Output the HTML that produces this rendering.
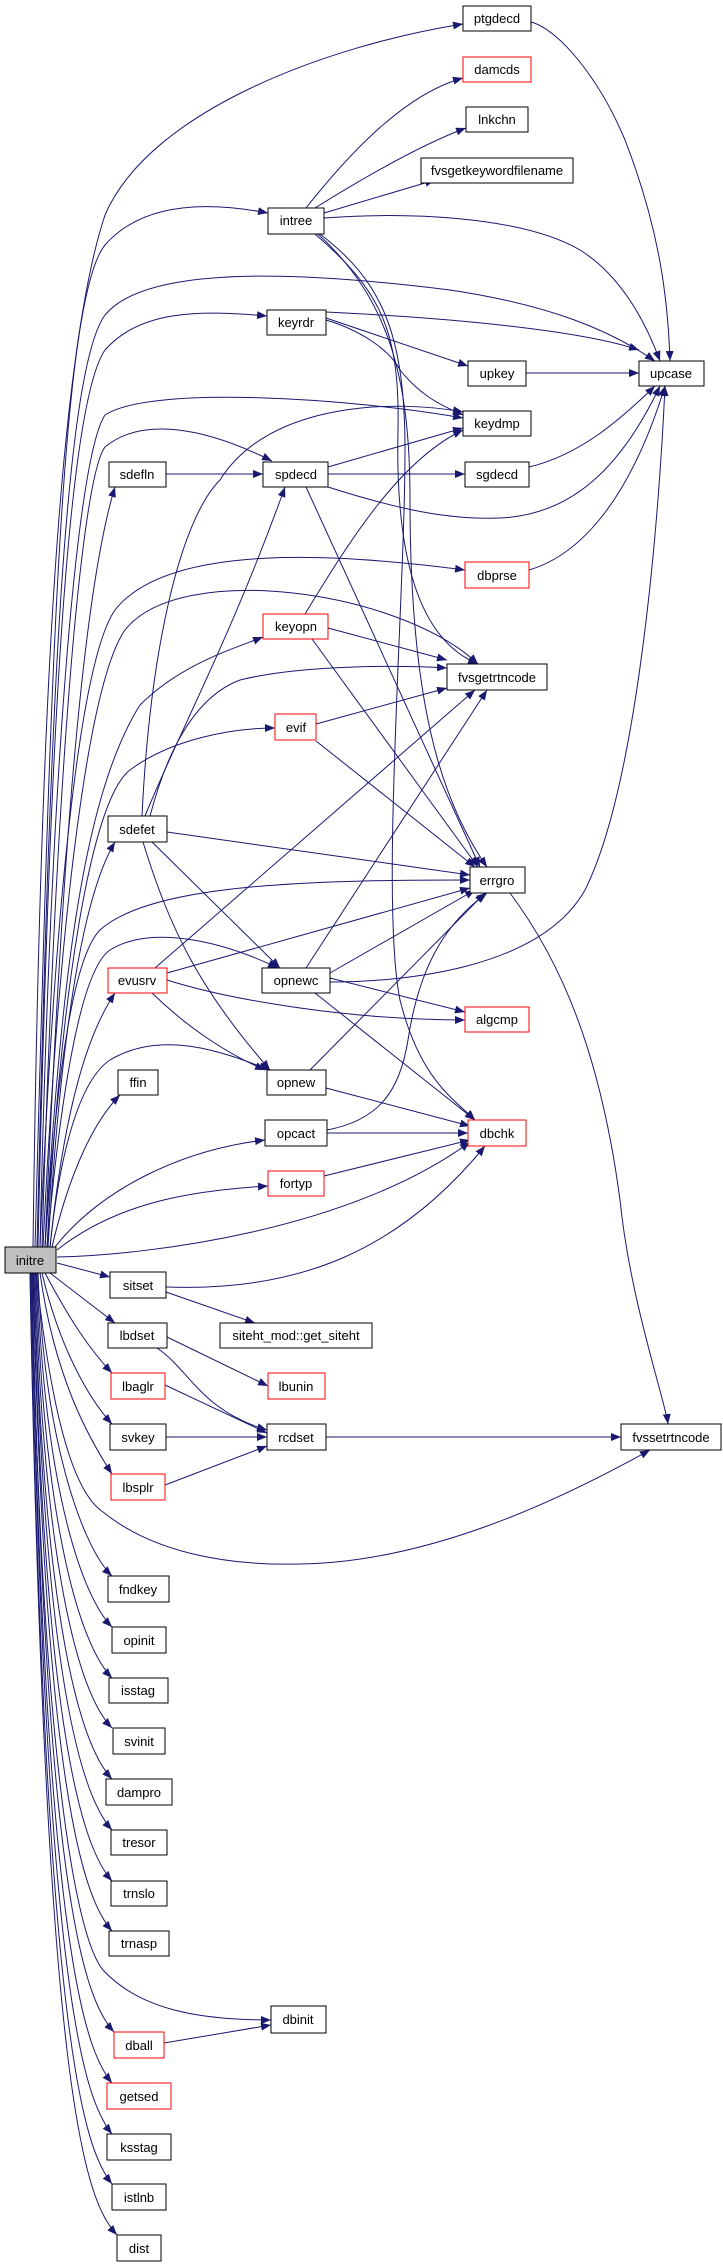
<!DOCTYPE html>
<html><head><meta charset="utf-8"><style>
html,body{margin:0;padding:0;background:#fff;}
svg{display:block;}
text{font-family:"Liberation Sans",sans-serif;font-size:13px;fill:#000;text-anchor:middle;}
.n{fill:#fff;stroke:#000;stroke-width:1;}
.r{fill:#fff;stroke:#ff0000;stroke-width:1;}
.g{fill:#bfbfbf;stroke:#000;stroke-width:1;}
path.e{fill:none;stroke:#191970;stroke-width:1;marker-end:url(#a);}
</style></head><body>
<svg width="723" height="2267" viewBox="0 0 723 2267" xmlns="http://www.w3.org/2000/svg">
<defs><marker id="a" markerUnits="userSpaceOnUse" markerWidth="11" markerHeight="8" refX="10" refY="4" orient="auto"><path d="M0,0 L10,4 L0,8 z" fill="#191970"/></marker></defs>
<g>
<path class="e" d="M33,1247 C40,700 60,350 105,215 C150,110 330,45 463,24"/>
<path class="e" d="M35,1247 C50,700 60,300 105,245 C140,205 200,200 268,213"/>
<path class="e" d="M37,1247 C50,700 65,370 105,315 C150,260 330,275 450,290 C550,305 610,330 655,361"/>
<path class="e" d="M38,1247 C50,700 70,400 105,350 C140,310 200,310 267,316"/>
<path class="e" d="M40,1247 C50,800 75,460 105,415 C150,385 350,398 463,418"/>
<path class="e" d="M42,1247 C55,800 80,480 105,447 C140,418 200,425 272,461"/>
<path class="e" d="M45,1247 C60,900 80,600 115,487"/>
<path class="e" d="M40,1247 C55,900 80,660 115,610 C170,540 350,555 465,570"/>
<path class="e" d="M43,1247 C60,900 90,680 125,630 C180,560 400,590 478,664"/>
<path class="e" d="M45,1247 C60,1000 80,800 140,705 C180,665 230,650 263,637"/>
<path class="e" d="M47,1247 C60,1000 90,800 130,770 C170,740 230,728 275,728"/>
<path class="e" d="M48,1247 C60,1050 80,900 115,842"/>
<path class="e" d="M45,1247 C55,1100 70,960 100,930 C150,885 300,880 470,880"/>
<path class="e" d="M50,1247 C65,1100 90,1030 115,993"/>
<path class="e" d="M47,1247 C60,1100 80,970 110,950 C150,925 220,940 278,968"/>
<path class="e" d="M50,1247 C60,1150 80,1080 110,1060 C160,1030 220,1050 269,1070"/>
<path class="e" d="M52,1247 C70,1170 95,1120 120,1095"/>
<path class="e" d="M55,1247 C100,1190 180,1150 265,1140"/>
<path class="e" d="M57,1250 C120,1200 200,1190 268,1186"/>
<path class="e" d="M57,1257 C150,1255 350,1230 470,1142"/>
<path class="e" d="M166,1287 C300,1292 400,1250 485,1146"/>
<path class="e" d="M57,1263 L110,1277"/>
<path class="e" d="M50,1273 L115,1323"/>
<path class="e" d="M45,1273 C70,1320 90,1350 112,1373"/>
<path class="e" d="M42,1273 C60,1350 90,1400 112,1424"/>
<path class="e" d="M40,1273 C55,1380 90,1440 112,1474"/>
<path class="e" d="M36,1273 C50,1400 70,1490 103,1512 C150,1550 220,1566 300,1564 C430,1562 560,1500 650,1450"/>
<path class="e" d="M38,1273 C45,1450 85,1550 112,1576"/>
<path class="e" d="M37,1273 C45,1500 85,1600 112,1627"/>
<path class="e" d="M36,1273 C45,1550 85,1650 112,1678"/>
<path class="e" d="M35,1273 C45,1600 85,1700 112,1728"/>
<path class="e" d="M34,1273 C45,1650 85,1750 112,1779"/>
<path class="e" d="M34,1273 C45,1700 85,1800 112,1830"/>
<path class="e" d="M33,1273 C45,1750 85,1850 112,1881"/>
<path class="e" d="M33,1273 C45,1800 85,1900 112,1931"/>
<path class="e" d="M32,1273 C40,1700 70,1930 103,1970 C140,2010 200,2020 271,2020"/>
<path class="e" d="M32,1273 C45,1900 85,2000 114,2032"/>
<path class="e" d="M31,1273 C45,1950 85,2050 112,2083"/>
<path class="e" d="M31,1273 C45,2000 85,2100 112,2134"/>
<path class="e" d="M30,1273 C45,2050 85,2150 112,2184"/>
<path class="e" d="M30,1273 C45,2100 85,2200 117,2235"/>
<path class="e" d="M531,22 C560,30 600,80 625,140 C660,230 668,300 670,361"/>
<path class="e" d="M306,208 C340,165 400,95 463,78"/>
<path class="e" d="M315,208 C360,180 420,145 466,128"/>
<path class="e" d="M324,213 L435,180"/>
<path class="e" d="M324,218 C400,212 520,215 580,250 C620,275 645,320 660,361"/>
<path class="e" d="M315,234 C380,290 400,330 398,430 C395,560 420,640 478,664"/>
<path class="e" d="M318,234 C390,300 410,380 410,500 C410,700 440,800 487,867"/>
<path class="e" d="M320,234 C380,280 405,330 405,450 C405,600 380,900 400,1000 C420,1080 455,1100 475,1120"/>
<path class="e" d="M326,312 C450,318 580,330 639,350"/>
<path class="e" d="M326,318 L468,366"/>
<path class="e" d="M326,320 C360,330 390,350 400,370 C420,395 440,405 463,415"/>
<path class="e" d="M526,373 L639,373"/>
<path class="e" d="M142,816 C150,650 180,520 220,480 C270,400 400,400 463,412"/>
<path class="e" d="M145,816 C180,730 230,640 285,487"/>
<path class="e" d="M150,816 C170,740 200,695 240,680 C300,665 400,665 447,668"/>
<path class="e" d="M166,474 L263,474"/>
<path class="e" d="M328,467 L463,428"/>
<path class="e" d="M328,474 L465,474"/>
<path class="e" d="M328,487 C400,510 450,520 500,518 C570,515 620,470 660,386"/>
<path class="e" d="M306,487 L480,867"/>
<path class="e" d="M529,467 C580,455 620,420 655,386"/>
<path class="e" d="M529,570 C580,555 630,500 665,386"/>
<path class="e" d="M305,614 C350,540 400,460 463,430"/>
<path class="e" d="M328,628 L447,660"/>
<path class="e" d="M312,639 L478,867"/>
<path class="e" d="M316,724 L447,688"/>
<path class="e" d="M316,741 L475,867"/>
<path class="e" d="M167,832 L470,875"/>
<path class="e" d="M152,842 L280,968"/>
<path class="e" d="M143,842 C170,930 200,990 270,1070"/>
<path class="e" d="M155,968 L475,690"/>
<path class="e" d="M167,973 L470,888"/>
<path class="e" d="M167,980 C230,1000 350,1020 465,1020"/>
<path class="e" d="M152,993 C190,1030 230,1055 265,1070"/>
<path class="e" d="M306,968 L487,690"/>
<path class="e" d="M330,973 L475,890"/>
<path class="e" d="M330,982 C400,982 540,970 585,890 C640,780 660,500 665,386"/>
<path class="e" d="M330,978 L465,1012"/>
<path class="e" d="M315,993 L475,1120"/>
<path class="e" d="M310,1070 L485,893"/>
<path class="e" d="M326,1088 L470,1126"/>
<path class="e" d="M327,1130 C380,1120 400,1090 408,1040 C420,960 450,920 487,893"/>
<path class="e" d="M327,1133 L468,1133"/>
<path class="e" d="M324,1176 L470,1140"/>
<path class="e" d="M166,1292 L255,1323"/>
<path class="e" d="M167,1337 L268,1386"/>
<path class="e" d="M157,1348 C190,1370 200,1410 267,1430"/>
<path class="e" d="M165,1385 L267,1433"/>
<path class="e" d="M166,1437 L267,1437"/>
<path class="e" d="M165,1485 L267,1446"/>
<path class="e" d="M326,1437 L621,1437"/>
<path class="e" d="M510,893 C560,960 600,1050 620,1200 C630,1300 665,1400 668,1424"/>
<path class="e" d="M164,2043 L271,2025"/>
</g>
<g>
<rect class="n" x="463" y="6" width="68" height="25"/><text x="497" y="23">ptgdecd</text>
<rect class="r" x="463" y="57" width="68" height="25"/><text x="497" y="74">damcds</text>
<rect class="n" x="466" y="107" width="62" height="25"/><text x="497" y="124">lnkchn</text>
<rect class="n" x="421" y="158" width="152" height="25"/><text x="497" y="175">fvsgetkeywordfilename</text>
<rect class="n" x="268" y="208" width="56" height="26"/><text x="296" y="225">intree</text>
<rect class="n" x="267" y="310" width="59" height="25"/><text x="296" y="327">keyrdr</text>
<rect class="n" x="468" y="361" width="58" height="25"/><text x="497" y="378">upkey</text>
<rect class="n" x="639" y="361" width="65" height="25"/><text x="671" y="378">upcase</text>
<rect class="n" x="463" y="411" width="68" height="25"/><text x="497" y="428">keydmp</text>
<rect class="n" x="109" y="462" width="57" height="25"/><text x="137" y="479">sdefln</text>
<rect class="n" x="263" y="462" width="65" height="25"/><text x="296" y="479">spdecd</text>
<rect class="n" x="465" y="462" width="64" height="25"/><text x="497" y="479">sgdecd</text>
<rect class="r" x="465" y="562" width="64" height="26"/><text x="497" y="580">dbprse</text>
<rect class="r" x="263" y="614" width="65" height="25"/><text x="296" y="631">keyopn</text>
<rect class="n" x="447" y="664" width="100" height="26"/><text x="497" y="682">fvsgetrtncode</text>
<rect class="r" x="275" y="714" width="41" height="26"/><text x="296" y="732">evif</text>
<rect class="n" x="108" y="816" width="59" height="26"/><text x="137" y="834">sdefet</text>
<rect class="n" x="470" y="867" width="55" height="26"/><text x="497" y="885">errgro</text>
<rect class="r" x="108" y="968" width="59" height="25"/><text x="137" y="985">evusrv</text>
<rect class="n" x="262" y="968" width="68" height="25"/><text x="296" y="985">opnewc</text>
<rect class="r" x="465" y="1007" width="64" height="25"/><text x="497" y="1024">algcmp</text>
<rect class="n" x="118" y="1070" width="40" height="25"/><text x="138" y="1087">ffin</text>
<rect class="n" x="267" y="1070" width="59" height="25"/><text x="296" y="1087">opnew</text>
<rect class="n" x="265" y="1120" width="62" height="26"/><text x="296" y="1138">opcact</text>
<rect class="r" x="468" y="1120" width="58" height="26"/><text x="497" y="1138">dbchk</text>
<rect class="r" x="268" y="1171" width="56" height="25"/><text x="296" y="1188">fortyp</text>
<rect class="g" x="5" y="1247" width="51" height="26"/><text x="30" y="1265">initre</text>
<rect class="n" x="110" y="1272" width="56" height="26"/><text x="138" y="1290">sitset</text>
<rect class="n" x="220" y="1323" width="152" height="25"/><text x="296" y="1340">siteht_mod::get_siteht</text>
<rect class="n" x="108" y="1323" width="59" height="25"/><text x="137" y="1340">lbdset</text>
<rect class="r" x="111" y="1373" width="54" height="26"/><text x="138" y="1391">lbaglr</text>
<rect class="r" x="268" y="1373" width="57" height="26"/><text x="296" y="1391">lbunin</text>
<rect class="n" x="110" y="1424" width="56" height="26"/><text x="138" y="1442">svkey</text>
<rect class="n" x="267" y="1424" width="59" height="26"/><text x="296" y="1442">rcdset</text>
<rect class="n" x="621" y="1424" width="100" height="26"/><text x="671" y="1442">fvssetrtncode</text>
<rect class="r" x="111" y="1474" width="54" height="26"/><text x="138" y="1492">lbsplr</text>
<rect class="n" x="108" y="1576" width="61" height="26"/><text x="138" y="1594">fndkey</text>
<rect class="n" x="112" y="1627" width="54" height="26"/><text x="139" y="1645">opinit</text>
<rect class="n" x="109" y="1678" width="59" height="25"/><text x="138" y="1695">isstag</text>
<rect class="n" x="113" y="1728" width="52" height="26"/><text x="139" y="1746">svinit</text>
<rect class="n" x="106" y="1779" width="66" height="26"/><text x="139" y="1797">dampro</text>
<rect class="n" x="111" y="1830" width="56" height="25"/><text x="139" y="1847">tresor</text>
<rect class="n" x="111" y="1881" width="56" height="25"/><text x="139" y="1898">trnslo</text>
<rect class="n" x="109" y="1931" width="60" height="25"/><text x="139" y="1948">trnasp</text>
<rect class="n" x="271" y="2006" width="55" height="27"/><text x="298" y="2024">dbinit</text>
<rect class="r" x="114" y="2032" width="50" height="26"/><text x="139" y="2050">dball</text>
<rect class="r" x="107" y="2083" width="64" height="26"/><text x="139" y="2101">getsed</text>
<rect class="n" x="107" y="2134" width="64" height="26"/><text x="139" y="2152">ksstag</text>
<rect class="n" x="112" y="2184" width="54" height="26"/><text x="139" y="2202">istlnb</text>
<rect class="n" x="117" y="2235" width="44" height="26"/><text x="139" y="2253">dist</text>
</g>
</svg>
</body></html>
